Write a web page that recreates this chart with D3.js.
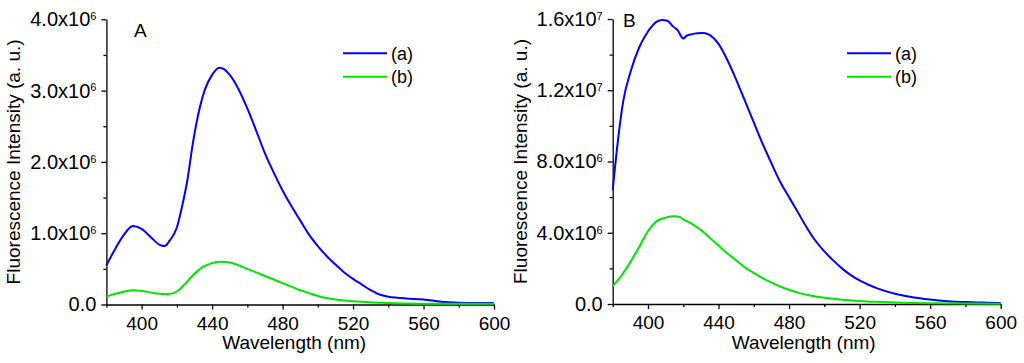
<!DOCTYPE html>
<html>
<head>
<meta charset="utf-8">
<script src="https://cdn.jsdelivr.net/npm/d3@7"></script>
<style>
    body { margin: 0; background: #fff; }
    text { font-family: "Liberation Sans", Arial, sans-serif; fill: #000; }
</style>
</head>
<body>
<script>
// intensities are in units of 10^6 (a. u.)
let waveA_a = [380, 385, 390, 395, 400, 405, 410, 413, 416, 420, 423, 426, 429, 432, 436, 440, 444, 446, 450, 455,
    460, 465, 470, 475, 480, 485, 490, 495, 500, 505, 510, 515, 520, 525, 530, 535, 540, 545, 550, 560, 570, 580, 590, 600];
let intensityA_a = [0.55, 0.78, 0.98, 1.10, 1.06, 0.95, 0.84, 0.82, 0.90, 1.08, 1.38, 1.75, 2.25, 2.65, 3.02, 3.22, 3.32, 3.31, 3.22, 3.02,
    2.75, 2.44, 2.12, 1.85, 1.60, 1.38, 1.18, 0.98, 0.82, 0.68, 0.56, 0.45, 0.36, 0.28, 0.20, 0.14, 0.11, 0.095, 0.085, 0.07, 0.04, 0.025, 0.02, 0.02];

let waveA_b = [380, 385, 390, 395, 400, 405, 410, 414, 418, 421, 425, 430, 435, 440, 445, 450, 455, 460, 465, 470, 475,
    480, 485, 490, 495, 500, 505, 510, 515, 520, 530, 540, 550, 570, 600];
let intensityA_b = [0.11, 0.15, 0.18, 0.20, 0.19, 0.17, 0.15, 0.145, 0.16, 0.20, 0.30, 0.43, 0.53, 0.58, 0.60, 0.59, 0.55, 0.50, 0.45, 0.40, 0.35,
    0.30, 0.25, 0.20, 0.16, 0.12, 0.09, 0.07, 0.055, 0.045, 0.03, 0.02, 0.015, 0.01, 0.01];

let waveB_a = [380, 383, 386, 390, 395, 400, 405, 408, 411, 414, 417, 420, 422, 425, 428, 431, 434, 437, 440, 445, 450, 455, 460,
    465, 470, 475, 480, 485, 490, 495, 500, 505, 510, 515, 520, 525, 530, 540, 550, 560, 570, 580, 590, 600];
let intensityB_a = [6.4, 9.2, 11.4, 13.0, 14.4, 15.3, 15.85, 15.95, 15.9, 15.6, 15.35, 14.9, 15.07, 15.15, 15.2, 15.22, 15.15, 14.95, 14.6, 13.7, 12.6, 11.4, 10.2,
    9.0, 7.9, 6.85, 6.0, 5.15, 4.3, 3.55, 2.95, 2.45, 2.0, 1.62, 1.32, 1.08, 0.88, 0.58, 0.38, 0.25, 0.16, 0.11, 0.08, 0.06];

let waveB_b = [380, 385, 390, 395, 400, 405, 410, 415, 418, 420, 425, 430, 435, 440, 445, 450, 455, 460, 465, 470, 475,
    480, 485, 490, 495, 500, 505, 510, 520, 530, 540, 560, 600];
let intensityB_b = [1.0, 1.6, 2.35, 3.2, 4.1, 4.65, 4.85, 4.92, 4.88, 4.75, 4.5, 4.15, 3.72, 3.28, 2.85, 2.45, 2.05, 1.75, 1.45, 1.2, 0.98,
    0.8, 0.64, 0.52, 0.42, 0.35, 0.29, 0.24, 0.17, 0.12, 0.08, 0.04, 0.02];

let xTicks = [400, 440, 480, 520, 560, 600];
let xMinorTicks = [380, 420, 460, 500, 540, 580];
let yTicksA = [0, 1, 2, 3, 4];
let yMinorTicksA = [0.5, 1.5, 2.5, 3.5];
let yTicksB = [0, 4, 8, 12, 16];
let yMinorTicksB = [2, 6, 10, 14];
let legendNames = ["(a)", "(b)"];
let colors = ["#0000ff", "#00e600"];

let svgContainer,
    svgWidth = 1024,
    svgHeight = 363;

function init() {
    svgContainer = d3.select("body").append("svg")
        .attr("width", svgWidth)
        .attr("height", svgHeight);

    drawPanel({
        left: 106.4, right: 494, top: 19.3, bottom: 304.5,
        yMax: 4, yTicks: yTicksA, yMinor: yMinorTicksA,
        series: [[waveA_a, intensityA_a], [waveA_b, intensityA_b]],
        letter: "A", letterX: 134, letterY: 37,
        legendX: 343, titleX: 20, xTitleShift: -6
    });
    drawPanel({
        left: 612.7, right: 1000.7, top: 19, bottom: 304,
        yMax: 16, yTicks: yTicksB, yMinor: yMinorTicksB,
        series: [[waveB_a, intensityB_a], [waveB_b, intensityB_b]],
        letter: "B", letterX: 623, letterY: 27,
        legendX: 847, titleX: 527, xTitleShift: -3
    });
}

function sciLabel(text, d) {
    text.text(null);
    if (d === 0) {
        text.text("0.0");
        return;
    }
    let v = d * 1e6;
    let exp = Math.floor(Math.log10(v));
    let mant = (v / Math.pow(10, exp)).toFixed(1);
    text.append("tspan").text(mant + "x10");
    text.append("tspan").attr("dy", "-0.55em").attr("font-size", 11).text(exp);
}

function drawPanel(p) {
    let x = d3.scaleLinear().domain([380, 600]).range([p.left, p.right]);
    let y = d3.scaleLinear().domain([0, p.yMax]).range([p.bottom, p.top]);

    // minor ticks
    svgContainer.append("g")
        .attr("transform", "translate(0," + p.bottom + ")")
        .call(d3.axisBottom(x).tickValues(xMinorTicks).tickSize(3).tickSizeOuter(0).tickFormat(""))
        .call(g => g.select(".domain").remove());
    svgContainer.append("g")
        .attr("transform", "translate(" + p.left + ",0)")
        .call(d3.axisLeft(y).tickValues(p.yMinor).tickSize(3).tickSizeOuter(0).tickFormat(""))
        .call(g => g.select(".domain").remove());

    let xAxis = svgContainer.append("g")
        .attr("transform", "translate(0," + p.bottom + ")")
        .call(d3.axisBottom(x).tickValues(xTicks).tickSize(5).tickPadding(7).tickSizeOuter(0));
    xAxis.selectAll("text").attr("font-size", 19).attr("font-family", "Liberation Sans, Arial, sans-serif");

    let yAxis = svgContainer.append("g")
        .attr("transform", "translate(" + p.left + ",0)")
        .call(d3.axisLeft(y).tickValues(p.yTicks).tickSize(5).tickPadding(5).tickSizeOuter(0));
    yAxis.selectAll("text")
        .attr("font-size", 20)
        .attr("font-family", "Liberation Sans, Arial, sans-serif")
        .each(function(d) { sciLabel(d3.select(this), d); });

    svgContainer.selectAll(".domain, .tick line").attr("stroke", "#000").attr("stroke-width", 1.3);

    let line = d3.line()
        .x(d => x(d[0]))
        .y(d => y(d[1]))
        .curve(d3.curveMonotoneX);

    p.series.forEach((s, i) => {
        let pts = s[0].map((w, k) => [w, s[1][k]]);
        svgContainer.append("path")
            .attr("d", line(pts))
            .attr("fill", "none")
            .attr("stroke", colors[i])
            .attr("stroke-width", 2);

        let ly = 53.3 + i * 23.4;
        svgContainer.append("line")
            .attr("x1", p.legendX).attr("x2", p.legendX + 44)
            .attr("y1", ly).attr("y2", ly)
            .attr("stroke", colors[i]).attr("stroke-width", 2);
        svgContainer.append("text")
            .attr("x", p.legendX + 48).attr("y", ly + 6.5)
            .attr("font-size", 18)
            .text(legendNames[i]);
    });

    svgContainer.append("text")
        .attr("x", p.letterX).attr("y", p.letterY)
        .attr("font-size", 19)
        .text(p.letter);

    svgContainer.append("text")
        .attr("x", (p.left + p.right) / 2 + p.xTitleShift).attr("y", 349)
        .attr("text-anchor", "middle")
        .attr("font-size", 19)
        .text("Wavelength (nm)");

    svgContainer.append("text")
        .attr("transform", "translate(" + p.titleX + "," + (p.top + p.bottom) / 2 + ") rotate(-90)")
        .attr("text-anchor", "middle")
        .attr("font-size", 19)
        .text("Fluorescence Intensity (a. u.)");
}

init();
</script>
</body>
</html>
